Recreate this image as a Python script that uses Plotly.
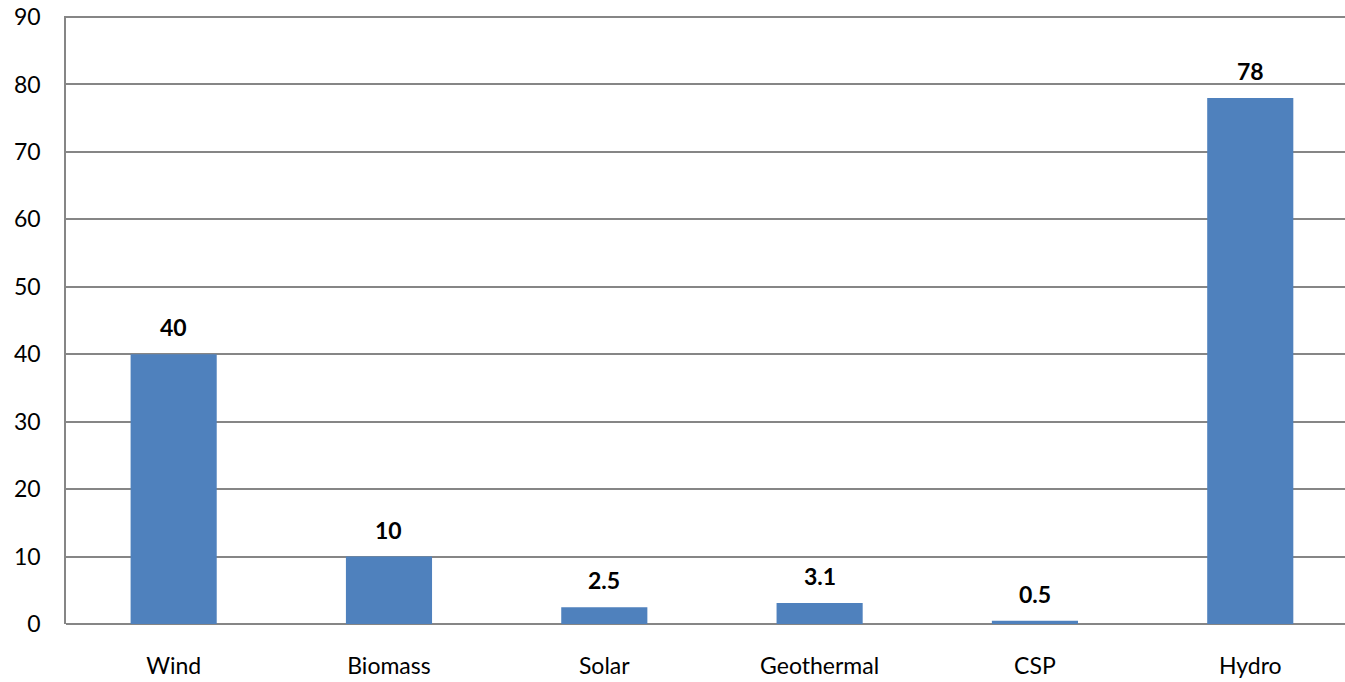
import plotly.graph_objects as go

categories = ["Wind", "Biomass", "Solar", "Geothermal", "CSP", "Hydro"]
values = [40, 10, 2.5, 3.1, 0.5, 78]
labels = ["40", "10", "2.5", "3.1", "0.5", "78"]
y_ticks = [0, 10, 20, 30, 40, 50, 60, 70, 80, 90]

FONT = "Lato, Calibri, Carlito, sans-serif"
GRID = "#868686"

fig = go.Figure()
fig.add_trace(go.Bar(
    x=categories, y=values,
    marker=dict(color="#4F81BD", line=dict(width=0)),
    width=0.4,
    hoverinfo="x+y",
))

for c, v, t in zip(categories, values, labels):
    fig.add_annotation(x=c, y=v, text="<b>%s</b>" % t, showarrow=False,
                       yanchor="middle", yshift=27,
                       font=dict(family=FONT, size=23, color="#000000"))

fig.update_layout(
    width=1345, height=682,
    margin=dict(l=66, r=0, t=16, b=58),
    paper_bgcolor="white", plot_bgcolor="white",
    showlegend=False,
    font=dict(family=FONT, size=23, color="#000000"),
    xaxis=dict(
        range=[-0.5, 5.44],
        automargin=False,
        showgrid=False,
        showline=False,
        ticks="", ticklabelstandoff=26,
        tickfont=dict(family=FONT, size=23),
        zeroline=False,
    ),
    yaxis=dict(
        range=[0, 90.15],
        automargin=False,
        tickvals=y_ticks,
        showgrid=True, gridcolor=GRID, gridwidth=1.5,
        showline=True, linecolor=GRID, linewidth=1.5,
        zeroline=True, zerolinecolor=GRID, zerolinewidth=1.5,
        ticks="", ticklabelstandoff=19,
        ticklabeloverflow="allow",
        tickfont=dict(family=FONT, size=23),
    ),
)

fig.write_html(
    "out.html",
    config={"displayModeBar": False},
    post_script="document.body.style.margin='0';document.body.style.overflow='hidden';",
)
